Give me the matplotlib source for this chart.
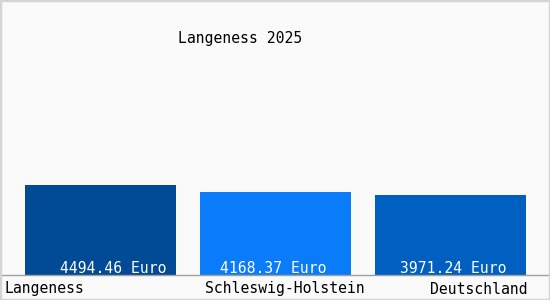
import matplotlib
matplotlib.use("Agg")
import matplotlib.pyplot as plt
from matplotlib.patches import Rectangle

title = "Langeness 2025"
categories = ["Langeness", "Schleswig-Holstein", "Deutschland"]
values = [4494.46, 4168.37, 3971.24]
colors = ["#004a96", "#0a7cfa", "#0060c2"]

fig = plt.figure(figsize=(5.5, 3), dpi=100, facecolor="#fafafa")
# axes spans the full width, bottom at the axis line (y=275 px)
ax = fig.add_axes([0, 25 / 300, 1, 250 / 300], facecolor="#fafafa")

x = list(range(len(values)))
ax.bar(x, values, width=151 / 175, color=colors, zorder=2)
ax.set_xlim(-100.5 / 175, (550 - 100.5) / 175)
ax.set_ylim(0, max(values) * 250 / 90)

for s in ["top", "left", "right"]:
    ax.spines[s].set_visible(False)
ax.spines["bottom"].set_color("#a0a0a0")
ax.spines["bottom"].set_linewidth(1)
ax.set_xticks([])
ax.set_yticks([])

font = dict(family="DejaVu Sans Mono", size=10.6)

# value labels inside bars near the base
label_shift = [13, -2, 3]
for xi, v, dx in zip(x, values, label_shift):
    ax.annotate(f"{v:.2f} Euro", (xi, 0), xytext=(dx * 0.72, -0.5),
                textcoords="offset points", ha="center", va="bottom",
                color="white", **font)

# category labels under the axis
fig.text(4 / 550, 1 - 289 / 300, categories[0], ha="left", va="center", **font)
fig.text(285 / 550, 1 - 289 / 300, categories[1], ha="center", va="center", **font)
fig.text(528 / 550, 1 - 289 / 300, categories[2], ha="right", va="center", **font)

fig.text(240 / 550, 1 - 38 / 300, title, ha="center", va="center", **font)

fig.patches.append(Rectangle((0, 0), 1, 1, transform=fig.transFigure,
                             fill=False, edgecolor="#d4d4d4", linewidth=2.5))

fig.savefig("out.png", dpi=100, facecolor=fig.get_facecolor())
